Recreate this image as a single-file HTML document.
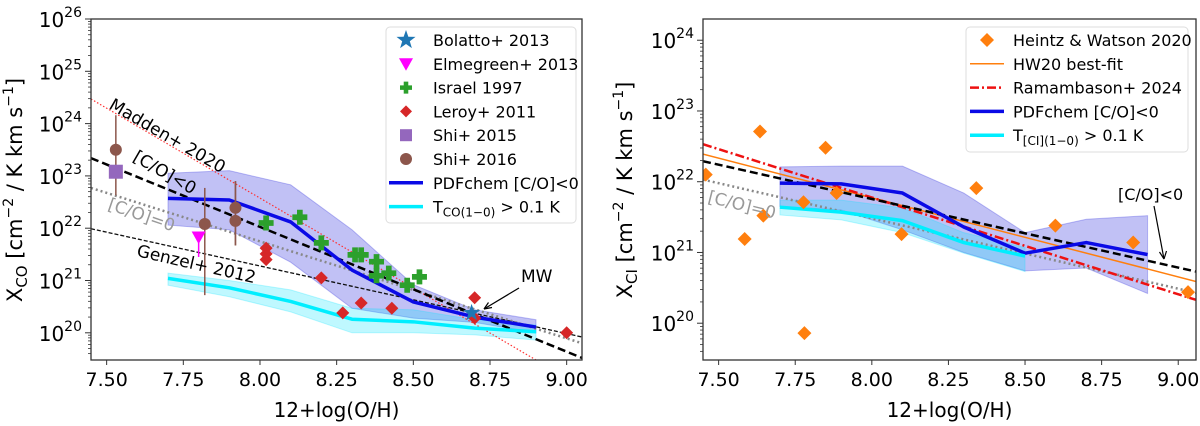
<!DOCTYPE html>
<html><head><meta charset="utf-8"><style>
body{margin:0;background:#fff;}
svg{display:block;font-family:"DejaVu Sans","Liberation Sans",sans-serif;}
</style></head><body>
<svg id="fig" width="1200" height="426" viewBox="0 0 1200 426" xmlns="http://www.w3.org/2000/svg"></svg>
<script>
// ---------- LEFT panel data (X_CO) ----------
const modelX = [7.7, 7.9, 8.1, 8.3, 8.5, 8.7, 8.9];
const coLine = [22.57, 22.54, 22.12, 21.2, 20.59, 20.3, 20.11];
const coBandHi = [23.05, 23.1, 22.83, 21.97, 20.92, 20.44, 20.25];
const coBandLo = [22.06, 21.97, 21.35, 20.47, 20.28, 20.2, 20.0];
const coCyan = [21.04, 20.86, 20.6, 20.26, 20.21, 20.09, 20.02];
const coCyanHi = [21.14, 21.0, 20.82, 20.47, 20.44, 20.25, 20.15];
const coCyanLo = [20.91, 20.69, 20.4, 20.0, 20.0, 19.96, 19.86];
const israelX = [8.02, 8.13, 8.20, 8.31, 8.33, 8.38, 8.38, 8.42, 8.48, 8.52];
const israelY = [22.1, 22.21, 21.72, 21.49, 21.49, 21.36, 21.09, 21.14, 20.91, 21.07];
const leroyX = [8.02, 8.02, 8.02, 8.20, 8.27, 8.33, 8.43, 8.70, 8.70, 9.00];
const leroyY = [21.62, 21.51, 21.4, 21.05, 20.38, 20.57, 20.47, 20.67, 20.28, 20.0];
const shi16X = [7.53, 7.82, 7.92, 7.92];
const shi16Y = [23.5, 22.08, 22.39, 22.14];
const shi16Hi = [24.16, 22.77, 22.9, 22.9];
const shi16Lo = [22.63, 20.72, 21.67, 21.67];
const shi15X = [7.53]; const shi15Y = [23.08];
const elmX = [7.80]; const elmY = [21.83];
const bolX = [8.69]; const bolY = [20.38];
// reference lines: [x0, y0, x1, y1] in data units (log10)
const coRelationCOlt0 = [7.449, 23.34, 9.05, 19.52];
const coRelationCOeq0 = [7.449, 22.77, 9.05, 19.8];
const genzel = [7.449, 21.99, 9.05, 19.92];
const madden = [7.449, 24.47, 8.9, 19.48];
const xTicks = [7.5, 7.75, 8.0, 8.25, 8.5, 8.75, 9.0];
const xTickLabels = ["7.50","7.75","8.00","8.25","8.50","8.75","9.00"];
const leftYTicks = [20,21,22,23,24,25,26];
// ---------- RIGHT panel data (X_CI) ----------
const hwX = [7.458, 7.585, 7.635, 7.646, 7.777, 7.78, 7.849, 7.885, 8.097, 8.341, 8.599, 8.853, 9.032];
const hwY = [22.1, 21.19, 22.71, 21.52, 21.71, 19.86, 22.48, 21.84, 21.26, 21.91, 21.38, 21.14, 20.44];
const ciLine = [21.98, 21.97, 21.84, 21.36, 20.99, 21.14, 20.97];
const ciBandHi = [22.21, 22.22, 22.22, 21.84, 21.28, 21.47, 21.52];
const ciBandLo = [21.65, 21.6, 21.32, 21.0, 20.74, 20.78, 20.42];
const ciCyanX = [7.7, 7.9, 8.1, 8.3, 8.5];
const ciCyan = [21.64, 21.57, 21.45, 21.14, 20.95];
const ciCyanHi = [21.74, 21.74, 21.63, 21.28, 21.07];
const ciCyanLo = [21.53, 21.46, 21.28, 20.99, 20.73];
const hwFit = [7.449, 22.39, 9.058, 20.59];
const ramamb = [7.449, 22.53, 9.058, 20.33];
const ciCOlt0 = [7.449, 22.29, 9.058, 20.73];
const ciCOeq0 = [7.449, 22.03, 9.058, 20.43];
const rightYTicks = [20,21,22,23,24];

const NS="http://www.w3.org/2000/svg";
const svg=document.getElementById('fig');
function mk(tag,attrs,parent){const e=document.createElementNS(NS,tag);for(const k in attrs)e.setAttribute(k,attrs[k]);(parent||svg).appendChild(e);return e;}

function panel(p){
  const g=mk('g',{});
  
  
  const sx=v=>p.px0+(v-p.x0)/(p.x1-p.x0)*(p.px1-p.px0);
  const sy=v=>p.py1-(v-p.y0)/(p.y1-p.y0)*(p.py1-p.py0);
  const clipId='clip'+p.name;
  const cp=mk('clipPath',{id:clipId},g);
  mk('rect',{x:p.px0,y:p.py0,width:p.px1-p.px0,height:p.py1-p.py0},cp);
  const pl=mk('g',{'clip-path':`url(#${clipId})`},g);
  return {g,pl,sx,sy};
}
function band(P,xs,hi,lo,fill,op,name){
  let d='M'+xs.map((x,i)=>P.sx(x)+','+P.sy(hi[i])).join('L');
  d+='L'+xs.slice().reverse().map((x,i)=>P.sx(x)+','+P.sy(lo[lo.length-1-i])).join('L')+'Z';
  const e=mk('path',{d,fill,'fill-opacity':op,stroke:fill,'stroke-opacity':op,'stroke-width':1},P.pl);
  
  
}
function line(P,xs,ys,color,w,name,dash){
  const d='M'+xs.map((x,i)=>P.sx(x)+','+P.sy(ys[i])).join('L');
  const e=mk('path',{d,fill:'none',stroke:color,'stroke-width':w,'stroke-linejoin':'round'},P.pl);
  if(dash)e.setAttribute('stroke-dasharray',dash);
  
  
}
function seg(P,a,color,w,dash,name){
  const e=mk('line',{x1:P.sx(a[0]),y1:P.sy(a[1]),x2:P.sx(a[2]),y2:P.sy(a[3]),stroke:color,'stroke-width':w},P.pl);
  if(dash)e.setAttribute('stroke-dasharray',dash);
  
  
}
function marker(parent,type,x,y,color,s){
  let e;
  if(type==='diamond')e=mk('path',{d:`M${x},${y-s}L${x+s},${y}L${x},${y+s}L${x-s},${y}Z`,fill:color},parent);
  else if(type==='plus'){const a=s*0.38;e=mk('path',{d:`M${x-a},${y-s}H${x+a}V${y-a}H${x+s}V${y+a}H${x+a}V${y+s}H${x-a}V${y+a}H${x-s}V${y-a}H${x-a}Z`,fill:color},parent);}
  else if(type==='circle')e=mk('circle',{cx:x,cy:y,r:s,fill:color},parent);
  else if(type==='square')e=mk('rect',{x:x-s,y:y-s,width:2*s,height:2*s,fill:color},parent);
  else if(type==='tri')e=mk('path',{d:`M${x-s},${y-s*0.8}L${x+s},${y-s*0.8}L${x},${y+s}Z`,fill:color},parent);
  else if(type==='star'){let d='';for(let i=0;i<10;i++){const r=i%2?s*0.4:s;const a=-Math.PI/2+i*Math.PI/5;d+=(i?'L':'M')+(x+r*Math.cos(a))+','+(y+r*Math.sin(a));}e=mk('path',{d:d+'Z',fill:color},parent);}
  return e;
}
function pts(P,xs,ys,type,color,s,name){
  xs.forEach((x,i)=>{const e=marker(P.pl,type,P.sx(x),P.sy(ys[i]),color,s);
    
    });
}
function text(parent,x,y,str,opts){
  const t=mk('text',Object.assign({x,y,'font-size':18,fill:'#000'},opts||{}),parent);
  t.textContent=str;return t;
}
function axes(P,p,yticks,ylabelMain,ylabelSub){
  const g=P.g;
  const fr=mk('rect',{x:p.px0,y:p.py0,width:p.px1-p.px0,height:p.py1-p.py0,fill:'none',stroke:'#333','stroke-width':1.3},g);
  
  
  xTicks.forEach((v,i)=>{const x=P.sx(v);
    mk('line',{x1:x,y1:p.py1,x2:x,y2:p.py1+5,stroke:'#333','stroke-width':1},g);
    const t=text(g,x,p.py1+26,xTickLabels[i],{'text-anchor':'middle','font-size':19});
    
    });
  for(let d=Math.floor(p.y0);d<Math.ceil(p.y1);d++){for(let k=2;k<10;k++){const v=d+Math.log10(k);if(v<p.y0||v>p.y1)continue;
    mk('line',{x1:p.px0-3,y1:P.sy(v),x2:p.px0,y2:P.sy(v),stroke:'#333','stroke-width':0.8},g);}}
  yticks.forEach(v=>{const y=P.sy(v);
    mk('line',{x1:p.px0-6,y1:y,x2:p.px0,y2:y,stroke:'#333','stroke-width':1},g);
    const t=mk('text',{x:p.px0-9,y:y+8,'text-anchor':'end','font-size':20,fill:'#000'},g);
    
    
    const a=mk('tspan',{},t);a.textContent='10';
    const b=mk('tspan',{'font-size':14,dy:-10},t);b.textContent=String(v);});
  const xl=text(g,(p.px0+p.px1)/2,p.py1+57,'12+log(O/H)',{'text-anchor':'middle','font-size':20});
  
  
  const yl=mk('text',{transform:`translate(${p.ylx},190) rotate(-90)`,'text-anchor':'middle','font-size':21,fill:'#000'},g);
  
  
  const t1=mk('tspan',{},yl);t1.textContent='X';
  const t2=mk('tspan',{'font-size':15,dy:5},yl);t2.textContent=ylabelSub;
  const t3=mk('tspan',{dy:-5},yl);t3.textContent=' [cm';
  const t4=mk('tspan',{'font-size':14,dy:-9},yl);t4.textContent='−2';
  const t5=mk('tspan',{dy:9},yl);t5.textContent=' / K km s';
  const t6=mk('tspan',{'font-size':14,dy:-9},yl);t6.textContent='−1';
  const t7=mk('tspan',{dy:9},yl);t7.textContent=']';
}

// ===== LEFT =====
const pL={name:'left-panel-xco',x0:7.449,x1:9.05,px0:91,px1:582,y0:19.48,y1:26,py0:19,py1:360,ylx:22};
const L=panel(pL);
band(L,modelX,coBandHi,coBandLo,'#3333dd',0.3,'pdfchem-band');
band(L,modelX,coCyanHi,coCyanLo,'#00e5ff',0.25,'cyan-band');
seg(L,madden,'#ff3030',1.2,'1.5,2','madden-2020-line');
seg(L,genzel,'#111',1.3,'4,2','genzel-2012-line');
seg(L,coRelationCOeq0,'#888',2.5,'2,3','co-eq-0-line');
seg(L,coRelationCOlt0,'#000',2.5,'8,4','co-lt-0-line');
line(L,modelX,coLine,'#0a0ae6',3.5,'pdfchem-line');
line(L,modelX,coCyan,'#00eeff',3.5,'cyan-line');
shi16X.forEach((x,i)=>{const e=mk('line',{x1:L.sx(x),x2:L.sx(x),y1:L.sy(shi16Hi[i]),y2:L.sy(shi16Lo[i]),stroke:'#8c564b','stroke-width':1.5},L.pl);
  
  });
{const e=mk('line',{x1:L.sx(7.80),x2:L.sx(7.80),y1:L.sy(21.9),y2:L.sy(21.45),stroke:'#ff00ff','stroke-width':1.5},L.pl);
 
 }
pts(L,shi15X,shi15Y,'square','#9467bd',7,'shi-2015-point');
pts(L,shi16X,shi16Y,'circle','#8c564b',6,'shi-2016-point');
pts(L,elmX,elmY,'tri','#ff00ff',7,'elmegreen-2013-point');
pts(L,israelX,israelY,'plus','#2ca02c',7.5,'israel-1997-point');
pts(L,leroyX,leroyY,'diamond','#d62728',6.5,'leroy-2011-point');
pts(L,bolX,bolY,'star','#1f77b4',9,'bolatto-2013-point');
{const t=text(L.pl,0,0,'Madden+ 2020',{'font-size':17,transform:'translate(108,108) rotate(30)'});
 
 const t2=text(L.pl,0,0,'[C/O]<0',{'font-size':17,transform:'translate(132,160) rotate(30)'});
 
 const t3=text(L.pl,0,0,'[C/O]=0',{'font-size':17,fill:'#999',transform:'translate(107,209) rotate(19)'});
 
 const t4=text(L.pl,0,0,'Genzel+ 2012',{'font-size':17,transform:'translate(136,256) rotate(13)'});
 
 const t5=text(L.g,521,282,'MW',{'font-size':17});
 
 const a=mk('line',{x1:519,y1:288,x2:484,y2:309,stroke:'#000','stroke-width':1.2},L.g);
 
 mk('path',{d:'M484,309 l8,-1.5 M484,309 l4.5,-6.5',stroke:'#000','stroke-width':1.2,fill:'none'},L.g);}
axes(L,pL,leftYTicks,'X','CO');

function legend(g,box,entries,name){
  const lg=mk('g',{},g);
  
  
  mk('rect',{x:box[0],y:box[1],width:box[2],height:box[3],rx:4,fill:'#fff','fill-opacity':0.85,stroke:'#ddd'},lg);
  entries.forEach((en,i)=>{const y=box[1]+13+i*23.8;const mx=box[0]+box[4];
    const it=mk('g',{},lg);
    
    
    if(en.type==='line'){const e=mk('line',{x1:mx-17,x2:mx+17,y1:y,y2:y,stroke:en.color,'stroke-width':en.w},it);if(en.dash)e.setAttribute('stroke-dasharray',en.dash);}
    else marker(it,en.type,mx,y,en.color,en.s);
    const t=text(it,box[0]+box[5],y+6,'',{'font-size':16});
    if(en.sub){const a=mk('tspan',{},t);a.textContent='T';const b=mk('tspan',{'font-size':12,dy:4},t);b.textContent=en.sub;const c=mk('tspan',{dy:-4},t);c.textContent=en.rest;}
    else t.textContent=en.label;});
}
legend(L.g,[386,27,190,196,20,47],[
 {type:'star',color:'#1f77b4',s:10,label:'Bolatto+ 2013'},
 {type:'tri',color:'#ff00ff',s:7,label:'Elmegreen+ 2013'},
 {type:'plus',color:'#2ca02c',s:6,label:'Israel 1997'},
 {type:'diamond',color:'#d62728',s:6,label:'Leroy+ 2011'},
 {type:'square',color:'#9467bd',s:6,label:'Shi+ 2015'},
 {type:'circle',color:'#8c564b',s:6,label:'Shi+ 2016'},
 {type:'line',color:'#0a0ae6',w:3.5,label:'PDFchem [C/O]<0'},
 {type:'line',color:'#00eeff',w:3.5,sub:'CO(1−0)',rest:' > 0.1 K'}],'left-legend');

// ===== RIGHT =====
const pR={name:'right-panel-xci',x0:7.449,x1:9.058,px0:703,px1:1196,y0:19.48,y1:24.3,py0:19,py1:360,ylx:632};
const R=panel(pR);
band(R,modelX,ciBandHi,ciBandLo,'#3333dd',0.3,'pdfchem-band');
band(R,ciCyanX,ciCyanHi,ciCyanLo,'#00e5ff',0.25,'cyan-band');
seg(R,ciCOeq0,'#888',2.5,'2,3','co-eq-0-line');
seg(R,hwFit,'#ff7f0e',1.5,null,'hw20-fit-line');
seg(R,ramamb,'#ee1111',2.5,'9,3,2,3','ramambason-2024-line');
seg(R,ciCOlt0,'#000',2.5,'8,4','co-lt-0-line');
line(R,modelX,ciLine,'#0a0ae6',3.5,'pdfchem-line');
line(R,ciCyanX,ciCyan,'#00eeff',3.5,'cyan-line');
pts(R,hwX,hwY,'diamond','#ff7f0e',7,'heintz-watson-point');
{const t=text(R.pl,0,0,'[C/O]=0',{'font-size':17,fill:'#999',transform:'translate(707,202) rotate(14)'});
 
 const t2=text(R.g,1118,200,'[C/O]<0',{'font-size':16});
 
 const a=mk('line',{x1:1154,y1:206,x2:1164,y2:259,stroke:'#000','stroke-width':1.2},R.g);
 
 mk('path',{d:'M1164,259 l-4.5,-7 M1164,259 l2.5,-8',stroke:'#000','stroke-width':1.2,fill:'none'},R.g);}
axes(R,pR,rightYTicks,'X','CI');
legend(R.g,[966,27,222,125,21,47],[
 {type:'diamond',color:'#ff7f0e',s:7,label:'Heintz & Watson 2020'},
 {type:'line',color:'#ff7f0e',w:1.5,label:'HW20 best-fit'},
 {type:'line',color:'#ee1111',w:2.5,dash:'9,3,2,3',label:'Ramambason+ 2024'},
 {type:'line',color:'#0a0ae6',w:3.5,label:'PDFchem [C/O]<0'},
 {type:'line',color:'#00eeff',w:3.5,sub:'[CI](1−0)',rest:' > 0.1 K'}],'right-legend');
</script>
</body></html>
